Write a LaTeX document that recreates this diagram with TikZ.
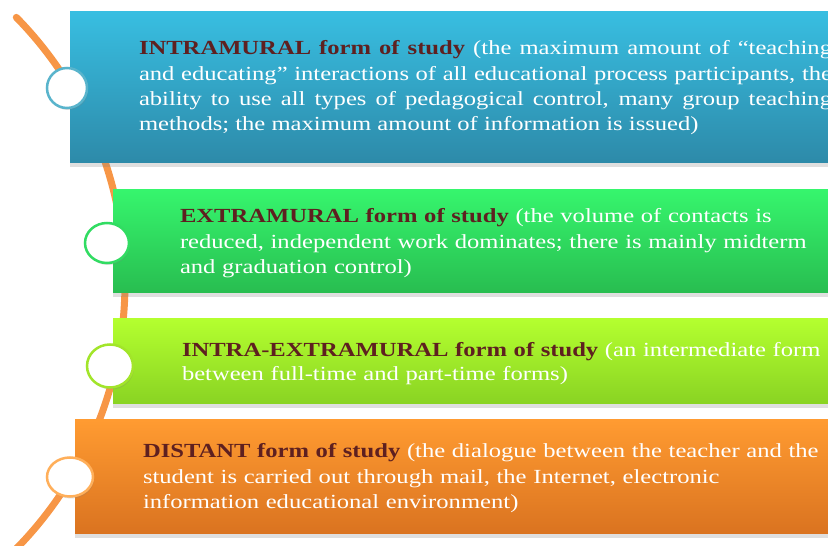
\documentclass[tikz,border=0pt]{standalone}
\usepackage{fontspec}
\setmainfont{Liberation Serif}[FakeStretch=1.23]
\usetikzlibrary{shadows, shapes.geometric}

\definecolor{introTop}{HTML}{38BEE1}
\definecolor{introBot}{HTML}{2D8AA9}
\definecolor{extraTop}{HTML}{36F56D}
\definecolor{extraBot}{HTML}{28BD50}
\definecolor{mixTop}{HTML}{B4FF2F}
\definecolor{mixBot}{HTML}{89D323}
\definecolor{distTop}{HTML}{FF9B31}
\definecolor{distBot}{HTML}{DA7320}
\definecolor{titleRed}{HTML}{5E2020}
\definecolor{arcOrange}{HTML}{F79646}

\newcommand{\formname}[1]{\textbf{\color{titleRed}#1 form of study}}

\begin{document}
\begin{tikzpicture}[x=1pt, y=1pt]
    \tikzstyle{every node}=[inner sep=0pt, outer sep=0pt]
    \tikzstyle{formbox}=[rectangle, anchor=north west, minimum width=760pt,
                         drop shadow={shadow xshift=0pt, shadow yshift=-4pt, opacity=0.25}]
    \tikzstyle{dot}=[ellipse, fill=white, line width=2.5pt,
                     drop shadow={shadow xshift=1pt, shadow yshift=-2pt, opacity=0.25}]
    \tikzstyle{formtext}=[anchor=base west, text width=700pt, align=left, text=white,
                          font=\fontsize{20}{25.3}\selectfont]
    \useasboundingbox (0,0) rectangle (828,546);
    \clip (0,0) rectangle (828,546);
    \fill[white] (0,0) rectangle (828,546);

    % the time line behind the boxes
    \draw[arcOrange, line width=7pt, line cap=round] (-254,263) ++(44.5:379) arc (44.5:-48:379);

    \node[formbox, minimum height=151pt, top color=introTop, bottom color=introBot] (intra) at (70,534) {};
    \node[formbox, minimum height=103pt, top color=extraTop, bottom color=extraBot] (extra) at (113,356) {};
    \node[formbox, minimum height=85pt, top color=mixTop, bottom color=mixBot] (mix) at (113,227) {};
    \node[formbox, minimum height=114pt, top color=distTop, bottom color=distBot] (dist) at (75,126) {};

    \node[formtext, text width=693pt, align=justify] (intraText) at (139,491)
        {\formname{INTRAMURAL} (the maximum amount of “teaching\linebreak
         and educating” interactions of all educational process participants, the\linebreak
         ability to use all types of pedagogical control, many group teaching\linebreak
         methods; the maximum amount of information is issued)};
    \node[formtext] (extraText) at (180,323)
        {\formname{EXTRAMURAL} (the volume of contacts is\\
         reduced, independent work dominates; there is mainly midterm\\
         and graduation control)};
    \node[formtext, font=\fontsize{20}{24}\selectfont] (mixText) at (182,189)
        {\formname{INTRA-EXTRAMURAL} (an intermediate form\\
         between full-time and part-time forms)};
    \node[formtext] (distText) at (143,88)
        {\formname{DISTANT} (the dialogue between the teacher and the\\
         student is carried out through mail, the Internet, electronic\\
         information educational environment)};

    % markers on the time line
    \node[dot, minimum width=40pt, minimum height=40pt, draw=introTop!85!black!80!white] (intraDot) at (67,458) {};
    \node[dot, minimum width=44pt, minimum height=40pt, draw=extraTop!90!black] (extraDot) at (107,303) {};
    \node[dot, minimum width=46pt, minimum height=43pt, draw=mixTop!90!black] (mixDot) at (110,180) {};
    \node[dot, minimum width=46pt, minimum height=39pt, draw=distTop!80!white] (distDot) at (70,69) {};
\end{tikzpicture}
\end{document}
